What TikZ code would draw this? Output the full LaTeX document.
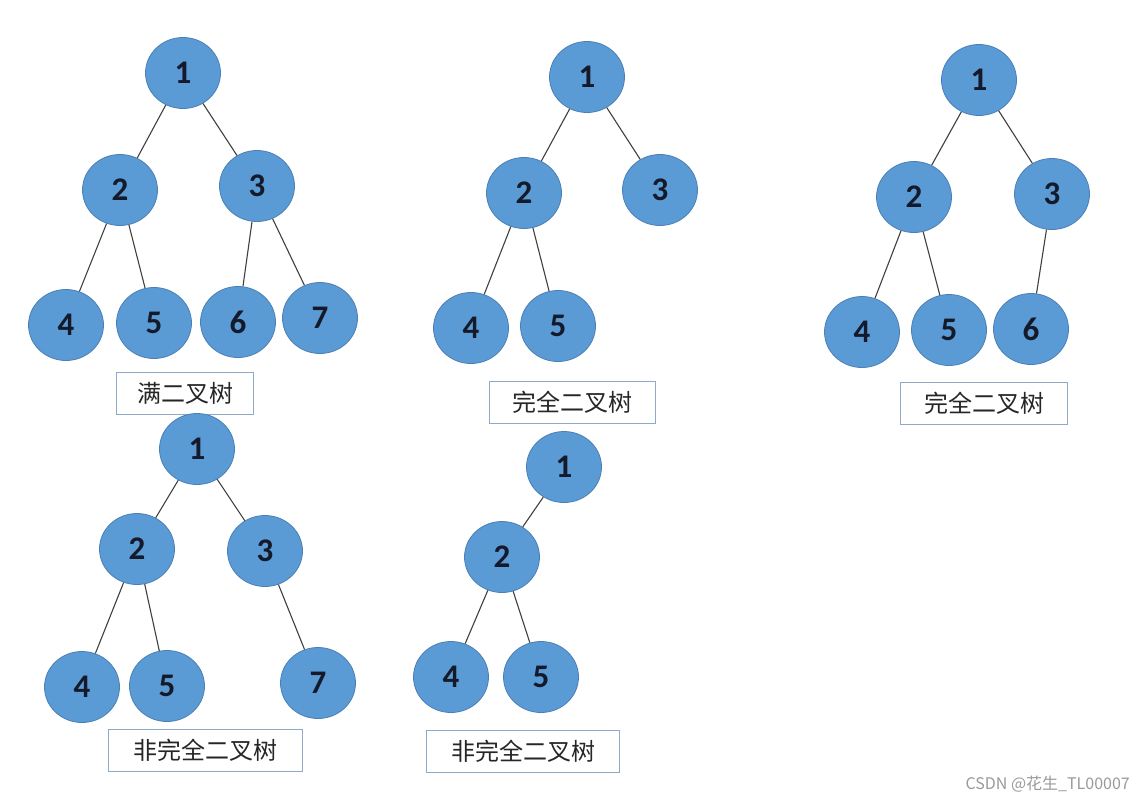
\documentclass[tikz,border=0pt]{standalone}
\usepackage{fontspec}
\setmainfont{Carlito}
\newfontfamily\cjk{Noto Sans CJK SC}
\usetikzlibrary{shapes.geometric}
\definecolor{nodefill}{HTML}{5B9BD5}
\definecolor{nodeedge}{HTML}{4A7FB5}
\definecolor{boxedge}{HTML}{8FA9C8}
\definecolor{numcol}{HTML}{141A2A}
\definecolor{wmcol}{HTML}{9A9A9A}
\begin{document}
\begin{tikzpicture}[x=1pt,y=-1pt,
  tn/.style={ellipse,draw=nodeedge,line width=0.8pt,fill=nodefill,minimum width=75pt,minimum height=71pt,inner sep=0pt,font=\bfseries\fontsize{33}{33}\selectfont,text=numcol},
  lbl/.style={draw=boxedge,line width=0.9pt,fill=white,font=\cjk\fontsize{24}{24}\selectfont,text=black!85,inner xsep=8pt,inner ysep=0pt,minimum height=42pt},
  edge/.style={draw=black!75,line width=1.1pt}]
\useasboundingbox (0,0) rectangle (1144,804);
\fill[white] (0,0) rectangle (1144,804);
% Tree 1
\node[tn] (a1) at (183,73) {1};
\node[tn] (a2) at (120,190) {2};
\node[tn] (a3) at (257,186) {3};
\node[tn] (a4) at (66,325) {4};
\node[tn] (a5) at (154,323) {5};
\node[tn] (a6) at (238,322) {6};
\node[tn] (a7) at (320,318) {7};
\draw[edge] (a1) -- (a2); \draw[edge] (a1) -- (a3);
\draw[edge] (a2) -- (a4); \draw[edge] (a2) -- (a5);
\draw[edge] (a3) -- (a6); \draw[edge] (a3) -- (a7);
\node[lbl,minimum width=137pt] (la) at (185,393) {满二叉树};
% Tree 2
\node[tn] (b1) at (587,77) {1};
\node[tn] (b2) at (524,193) {2};
\node[tn] (b3) at (660,190) {3};
\node[tn] (b4) at (471,328) {4};
\node[tn] (b5) at (558,326) {5};
\draw[edge] (b1) -- (b2); \draw[edge] (b1) -- (b3);
\draw[edge] (b2) -- (b4); \draw[edge] (b2) -- (b5);
\node[lbl,minimum width=166pt] (lb) at (572,402) {完全二叉树};
% Tree 3
\node[tn] (c1) at (979,80) {1};
\node[tn] (c2) at (914,197) {2};
\node[tn] (c3) at (1052,194) {3};
\node[tn] (c4) at (862,332) {4};
\node[tn] (c5) at (949,330) {5};
\node[tn] (c6) at (1031,329) {6};
\draw[edge] (c1) -- (c2); \draw[edge] (c1) -- (c3);
\draw[edge] (c2) -- (c4); \draw[edge] (c2) -- (c5);
\draw[edge] (c3) -- (c6);
\node[lbl,minimum width=167pt] (lc) at (984,403) {完全二叉树};
% Tree 4
\node[tn] (d1) at (197,449) {1};
\node[tn] (d2) at (137,549) {2};
\node[tn] (d3) at (265,551) {3};
\node[tn] (d4) at (82,687) {4};
\node[tn] (d5) at (167,686) {5};
\node[tn] (d7) at (318,683) {7};
\draw[edge] (d1) -- (d2); \draw[edge] (d1) -- (d3);
\draw[edge] (d2) -- (d4); \draw[edge] (d2) -- (d5);
\draw[edge] (d3) -- (d7);
\node[lbl,minimum width=194pt] (ld) at (205,750) {非完全二叉树};
% Tree 5
\node[tn] (e1) at (564,467) {1};
\node[tn] (e2) at (502,557) {2};
\node[tn] (e4) at (451,677) {4};
\node[tn] (e5) at (541,677) {5};
\draw[edge] (e1) -- (e2);
\draw[edge] (e2) -- (e4); \draw[edge] (e2) -- (e5);
\node[lbl,minimum width=193pt] (le) at (523,751) {非完全二叉树};
% watermark
\node[anchor=east,text=wmcol,font=\cjk\fontsize{16}{16}\selectfont,inner sep=0pt] (wm) at (1130,784) {CSDN @花生\_TL00007};
\end{tikzpicture}
\end{document}
